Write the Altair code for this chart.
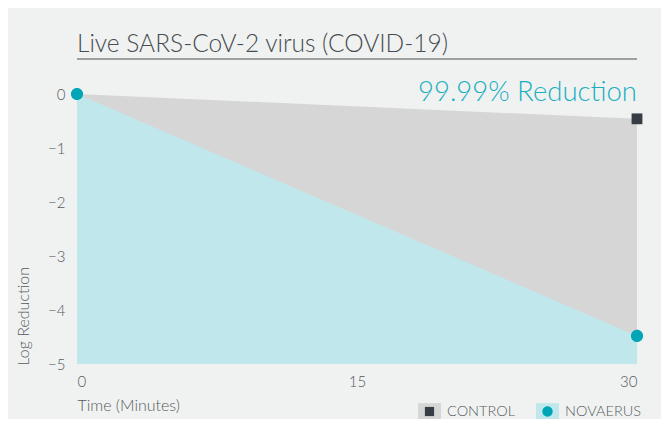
import altair as alt
import pandas as pd

# ---- data ----
series_names = ["CONTROL", "NOVAERUS"]
times = [0, 30]
control_values = [0, -0.46]
novaerus_values = [0, -4.48]
x_ticks = [0, 15, 30]
y_ticks = [0, -1, -2, -3, -4, -5]
title_text = "Live SARS-CoV-2 virus (COVID-19)"
annotation_text = "99.99% Reduction"
annotation_time = 30
annotation_value = 0

rows = []
for name, vals in zip(series_names, [control_values, novaerus_values]):
    for t, v in zip(times, vals):
        rows.append({"series": name, "area_series": name, "time": t, "value": v})
df = pd.DataFrame(rows)
ann = pd.DataFrame({"time": [annotation_time], "value": [annotation_value], "label": [annotation_text]})
ttl = pd.DataFrame({"label": [title_text]})

FONT = "Lato"
TXT = "#555a5e"
W, H = 560, 270

RECT_PATH = "M-1,-0.76H1V0.76H-1Z"
SQ_PATH = "M-0.4,-0.4H0.4V0.4H-0.4Z"
CIRC_PATH = "M0.45,0A0.45,0.45 0 1,1 -0.45,0A0.45,0.45 0 1,1 0.45,0Z"

x_enc = alt.X(
    "time:Q",
    scale=alt.Scale(domain=[0, 30], nice=False),
    axis=alt.Axis(
        values=x_ticks, title="Time (Minutes)", grid=False, domain=False, ticks=False,
        labelFlush=True, labelPadding=10, labelFontSize=15, labelColor=TXT, labelFont=FONT,
        labelFontWeight=300,
        titleFont=FONT, titleFontSize=16, titleColor=TXT, titleFontWeight=300,
        titleAnchor="start", titleAlign="left", titleX=0, titleY=46, titleBaseline="alphabetic",
    ),
)
y_enc = alt.Y(
    "value:Q",
    stack=None,
    scale=alt.Scale(domain=[-5, 0], nice=False),
    axis=alt.Axis(
        values=y_ticks, title="Log Reduction", grid=False, domain=False, ticks=False,
        labelPadding=12, labelFontSize=15, labelColor=TXT, labelFont=FONT, labelFontWeight=300,
        titleFont=FONT, titleFontSize=16, titleColor=TXT, titleFontWeight=300,
        titleAngle=270, titleAlign="left", titleBaseline="bottom", titleX=-46, titleY=H + 1,
    ),
)

legend_common = dict(
    orient="none", legendX=341, legendY=306, direction="horizontal", title=None,
    symbolSize=529, labelFont=FONT, labelFontSize=14.5, labelFontWeight=300, labelOffset=6,
    columnPadding=20, padding=0, symbolStrokeWidth=0,
)

areas = alt.Chart(df).mark_area(opacity=1).encode(
    x=x_enc,
    y=y_enc,
    y2=alt.datum(-5),
    fill=alt.Fill(
        "area_series:N",
        scale=alt.Scale(domain=series_names, range=["#d6d6d6", "#c0e8ec"]),
        legend=alt.Legend(symbolType=RECT_PATH, labelColor=TXT, symbolOpacity=1, zindex=0, **legend_common),
    ),
)

points = alt.Chart(df).transform_filter(
    "datum.series == 'NOVAERUS' || datum.time > 0"
).mark_point(filled=True, opacity=1, size=730, clip=False).encode(
    x="time:Q",
    y="value:Q",
    color=alt.Color(
        "series:N",
        scale=alt.Scale(domain=series_names, range=["#363d44", "#00a6b6"]),
        legend=alt.Legend(labelColor="transparent", symbolOpacity=1, zindex=1, **legend_common),
    ),
    shape=alt.Shape(
        "series:N",
        scale=alt.Scale(domain=series_names, range=[SQ_PATH, CIRC_PATH]),
        legend=alt.Legend(labelColor="transparent", symbolOpacity=1, zindex=1, **legend_common),
    ),
)

annotation = alt.Chart(ann).mark_text(
    align="right", baseline="middle", fontSize=27.5, font=FONT, fontWeight=300, color="#1aafc0", dy=-1
).encode(x="time:Q", y="value:Q", text="label:N")

title_mark = alt.Chart(ttl).mark_text(
    align="left", baseline="alphabetic", fontSize=24.5, font=FONT, fontWeight=300, color="#474c50"
).encode(x=alt.value(0), y=alt.value(-42), text="label:N")

underline = alt.Chart(ann).mark_rule(color="#4a4f54", strokeWidth=1.2).encode(
    x=alt.value(0), x2=alt.value(W), y=alt.value(-35)
)

chart = alt.layer(areas, points, annotation, title_mark, underline).resolve_scale(
    color="independent", fill="independent", shape="independent"
).properties(
    width=W,
    height=H,
    background="#f0f2f1",
    autosize=alt.AutoSizeParams(type="none"),
    padding={"left": 69, "top": 86, "right": 24, "bottom": 55},
).configure_view(stroke=None)

chart.save("out.html", embed_options={"renderer": "svg", "actions": False})
